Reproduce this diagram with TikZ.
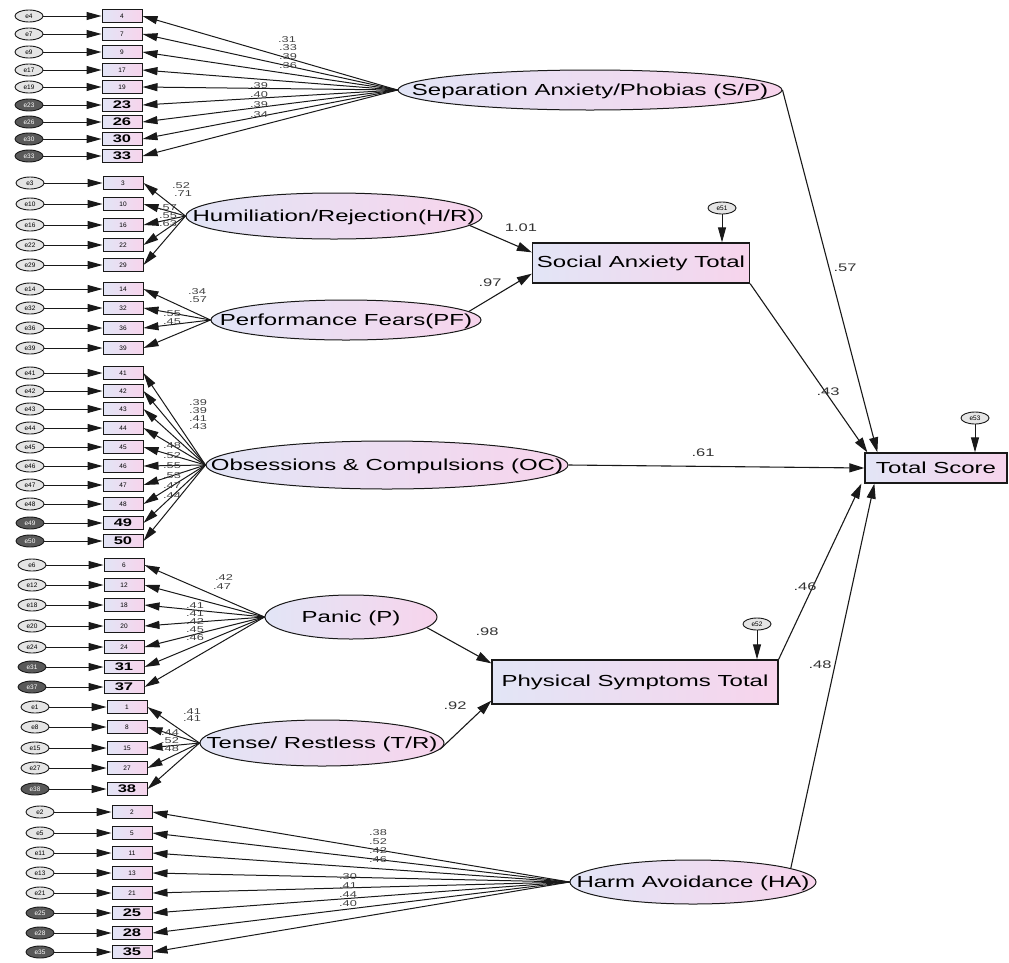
\documentclass[tikz,border=0pt]{standalone}
\usepackage{fontspec}
\setmainfont{Liberation Sans}
\newfontfamily\wfont[FakeStretch=1.5]{Liberation Sans}
\usetikzlibrary{shapes.geometric,arrows.meta,calc}
\newcommand\latfont{\wfont\fontsize{16}{18}\selectfont}
\newcommand\labfont{\wfont\fontsize{11}{12}\selectfont}
\newcommand\ldfont{\wfont\fontsize{8.5}{9}\selectfont}
\newcommand\itemfont{\fontsize{6.5}{7}\selectfont}
\newcommand\boldboxfont{\wfont\bfseries\fontsize{11}{12}\selectfont}
\newcommand\errfont{\fontsize{6.5}{7}\selectfont}
\newcommand\ctext[1]{\makebox[0pt]{\raisebox{-0.36em}[0pt][0pt]{#1}}}
\definecolor{lav}{RGB}{226,229,246}
\definecolor{pnk}{RGB}{247,212,236}
\tikzset{
  errnode/.style={ellipse, draw=black!90, line width=0.9pt, minimum width=28pt, minimum height=12pt, inner sep=0pt, font=\errfont},
  itembox/.style={rectangle, draw=black!90, line width=1pt, left color=lav, right color=pnk, minimum width=40pt, minimum height=13pt, inner sep=0pt},
  latent/.style={ellipse, draw=black!90, line width=1pt, left color=lav, right color=pnk, inner sep=0pt, font=\latfont},
  obsbox/.style={rectangle, draw=black!90, line width=1.3pt, left color=lav, right color=pnk, inner sep=0pt, font=\latfont},
  arr/.style={-{Triangle[length=15pt,width=8pt]}, line width=1pt, draw=black!90},
  sarr/.style={-{Triangle[length=15pt,width=9pt]}, line width=1.1pt, draw=black!90},
  lab/.style={font=\labfont, inner sep=0pt, text=black!80},
  ld/.style={font=\ldfont, inner sep=0pt, text=black!75},
}
\begin{document}
\begin{tikzpicture}[x=1pt,y=-1pt]
\useasboundingbox (0,0) rectangle (1009,962);
% latent factors
\node[latent, minimum width=384pt, minimum height=40pt] (SP) at (590,90) {\ctext{Separation Anxiety/Phobias (S/P)}};
\node[latent, minimum width=296pt, minimum height=46pt] (HR) at (334,216) {\ctext{Humiliation/Rejection(H/R)}};
\node[latent, minimum width=270pt, minimum height=40pt] (PF) at (346,320) {\ctext{Performance Fears(PF)}};
\node[latent, minimum width=362pt, minimum height=48pt] (OC) at (387,465) {\ctext{Obsessions \& Compulsions (OC)}};
\node[latent, minimum width=172pt, minimum height=44pt] (P) at (351,617) {\ctext{Panic (P)}};
\node[latent, minimum width=244pt, minimum height=46pt] (TR) at (322,743) {\ctext{Tense/ Restless (T/R)}};
\node[latent, minimum width=246pt, minimum height=44pt] (HA) at (693,882) {\ctext{Harm Avoidance (HA)}};
% observed totals
\node[obsbox, minimum width=217pt, minimum height=40pt] (SA) at (641,263) {Social Anxiety Total};
\node[obsbox, minimum width=286pt, minimum height=44pt] (PS) at (635,682) {Physical Symptoms Total};
\node[obsbox, minimum width=142pt, minimum height=30pt] (T) at (936,468) {Total Score};
% residuals
\node[errnode, fill=black!10] (rSA) at (722,208) {e51};
\node[errnode, fill=black!10] (rPS) at (757,624) {e52};
\node[errnode, fill=black!10] (rT) at (975,418) {e53};
\draw[arr] (rSA) -- (rSA |- SA.north);
\draw[arr] (rPS) -- (rPS |- PS.north);
\draw[arr] (rT) -- (rT |- T.north);
% items
\newcommand\itemrow[5]{% latent, errx, boxx, list
  \foreach \n/\yy/\b in {#4}{
    \ifnum\b=1 \def\ef{black!65}\def\et{white}\def\bt{\boldboxfont}\else\def\ef{black!10}\def\et{black}\def\bt{\itemfont}\fi
    \node[errnode, fill=\ef, text=\et] (e\n) at (#2,\yy) {e\n};
    \node[itembox] (v\n) at (#3,\yy) {\bt\n};
    \draw[arr] (e\n) -- (v\n);
    \draw[arr] (#1.west) -- (v\n.east);
  }
}
\itemrow{SP}{29}{122}{4/16/0,7/34/0,9/52/0,17/70/0,19/87/0,23/105/1,26/122/1,30/139/1,33/156/1}{}
\itemrow{HR}{30}{123}{3/183/0,10/204/0,16/225/0,22/245/0,29/265/0}{}
\itemrow{PF}{30}{123}{14/289/0,32/308/0,36/328/0,39/348/0}{}
\itemrow{OC}{30}{123}{41/373/0,42/391/0,43/409/0,44/428/0,45/447/0,46/466/0,47/485/0,48/504/0,49/523/1,50/541/1}{}
\itemrow{P}{32}{124}{6/565/0,12/585/0,18/605/0,20/626/0,24/647/0,31/667/1,37/687/1}{}
\itemrow{TR}{35}{127}{1/707/0,8/727/0,15/748/0,27/768/0,38/789/1}{}
\itemrow{HA}{40}{132}{2/812/0,5/833/0,11/853/0,13/873/0,21/893/0,25/913/1,28/933/1,35/952/1}{}
% structural paths
\draw[sarr] (HR.-4) -- ($(SA.north west)+(0,10)$);
\draw[sarr] (PF.4) -- ($(SA.south west)+(0,-10)$);
\draw[sarr] (P.-8) -- ($(PS.north west)+(0,4)$);
\draw[sarr] (TR.-3) -- ($(PS.south west)+(0,-4)$);
\draw[sarr] (SP.east) -- ($(T.north west)+(13,0)$);
\draw[sarr] (SA.south east) -- ($(T.north west)+(3,0)$);
\draw[sarr] (OC.east) -- (T.west);
\draw[sarr] (PS.north east) -- ($(T.south west)+(-3,0)$);
\draw[sarr] (HA.8) -- ($(T.south west)+(10,0)$);
% path labels
\node[lab] (l1) at (521,228) {1.01};
\node[lab] (l2) at (490,283) {.97};
\node[lab] (l3) at (487,632) {.98};
\node[lab] (l4) at (455,706) {.92};
\node[lab] (l5) at (845,268) {.57};
\node[lab] (l6) at (828,392) {.43};
\node[lab] (l7) at (703,453) {.61};
\node[lab] (l8) at (805,587) {.46};
\node[lab] (l9) at (820,665) {.48};
% loading labels
\foreach \t/\x/\y [count=\k] in {.31/287/40,.33/288/48,.39/288/57,.36/288/66,.39/259/86,.40/259/95,.39/259/105,.34/259/115,
  .52/181/186,.71/183/194,.57/168/208,.55/168/216,.63/168/224,
  .34/197/292,.57/198/300,.55/172/314,.45/172/322,
  .39/198/403,.39/198/411,.41/198/419,.43/198/427,.48/172/446,.52/172/456,.55/172/466,.53/172/476,.47/172/486,.44/172/496,
  .42/224/578,.47/222/587,.41/195/606,.41/195/614,.42/195/622,.45/195/630,.46/195/638,
  .41/192/712,.41/192/719,.44/170/733,.52/170/741,.48/170/749,
  .38/378/833,.52/378/842,.42/378/851,.46/378/860,.30/348/877,.41/348/886,.44/348/895,.40/348/904}
  {\node[ld] (ld\k) at (\x,\y) {\t};}
\end{tikzpicture}
\end{document}
